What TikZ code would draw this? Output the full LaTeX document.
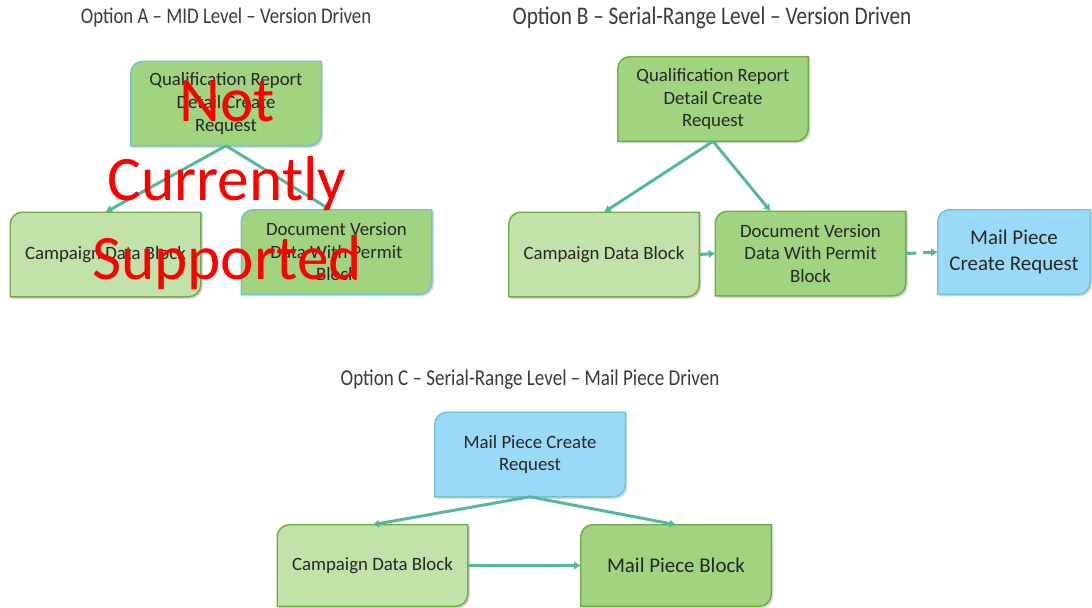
\documentclass[tikz,border=0pt]{standalone}
\usepackage{fontspec}
\setmainfont{Carlito}
\newfontfamily\titlefont[FakeStretch=0.84]{Carlito}
\usetikzlibrary{arrows.meta,backgrounds,shadows}

\definecolor{midgreen}{HTML}{A0D47E}
\definecolor{lightgreen}{HTML}{C1E2A8}
\definecolor{skyblue}{HTML}{98DAF8}
\definecolor{greenline}{HTML}{72AA48}
\definecolor{blueline}{HTML}{6CC3DA}
\definecolor{arrowteal}{HTML}{52B89C}
\definecolor{titlegray}{HTML}{3A3A3A}

% box outline: round top-left and bottom-right corners, square others
\newcommand{\snipshape}[3]{%
  \draw[fill=#2, draw=#3, line width=1.1pt,
        drop shadow={shadow xshift=1.5pt, shadow yshift=-1.5pt, opacity=0.3}]
    (#1.south west) -- ([yshift=-9pt]#1.north west)
    arc[start angle=180, end angle=90, radius=9pt]
    -- (#1.north east) -- ([yshift=9pt]#1.south east)
    arc[start angle=0, end angle=-90, radius=9pt] -- cycle;}

\tikzset{
  stepbox/.style={inner sep=0pt, minimum width=142.5pt, minimum height=63pt,
    align=center, text=black!85, font=\fontsize{14.1}{16.9}\selectfont},
  bigtext/.style={font=\fontsize{15.7}{19.5}\selectfont},
  title/.style={text=titlegray, inner sep=0pt},
  flow/.style={draw=arrowteal, line width=2.2pt, -{Latex[length=5pt,width=6.5pt]}},
  notsupp/.style={text=red, inner sep=0pt, align=center,
    font=\fontsize{47.5}{59.25}\selectfont}
}

\begin{document}
\begin{tikzpicture}[x=0.75pt,y=-0.75pt]
  \useasboundingbox (0,0) rectangle (1092,607);

  % titles
  \node[title, font=\titlefont\fontsize{16.8}{20}\selectfont] (titleA) at (226,18)
    {Option A \textendash\ MID Level \textendash\ Version Driven};
  \node[title, font=\titlefont\fontsize{19}{22}\selectfont] (titleB) at (712,18)
    {Option B \textendash\ Serial-Range Level \textendash\ Version Driven};
  \node[title, font=\titlefont\fontsize{17}{20}\selectfont] (titleC) at (530,380)
    {Option C \textendash\ Serial-Range Level \textendash\ Mail Piece Driven};

  % option A
  \node[stepbox] (qrA) at (226,103.5) {Qualification Report\\Detail Create\\Request};
  \node[stepbox] (campA) at (105.5,254.5) {Campaign Data Block};
  \node[stepbox] (docA) at (336.5,252) {Document Version\\Data With Permit\\Block};

  % option B
  \node[stepbox] (qrB) at (713,99) {Qualification Report\\Detail Create\\Request};
  \node[stepbox] (campB) at (604,254.5) {Campaign Data Block};
  \node[stepbox] (docB) at (810.5,253.5) {Document Version\\Data With Permit\\Block};
  \node[stepbox, bigtext, minimum width=114pt] (mailB) at (1014,252) {Mail Piece\\Create Request};

  % option C
  \node[stepbox] (mailC) at (530,454.5) {Mail Piece Create\\Request};
  \node[stepbox, minimum height=60.75pt] (campC) at (372.5,565.5) {Campaign Data Block};
  \node[stepbox, bigtext, minimum height=60.75pt] (blockC) at (676,565.5) {Mail Piece Block};

  \begin{scope}[on background layer]
    \snipshape{qrA}{midgreen}{blueline}
    \snipshape{campA}{lightgreen}{greenline}
    \snipshape{docA}{midgreen}{blueline}
    \snipshape{qrB}{midgreen}{greenline}
    \snipshape{campB}{lightgreen}{greenline}
    \snipshape{docB}{midgreen}{greenline}
    \snipshape{mailB}{skyblue}{blueline}
    \snipshape{mailC}{skyblue}{blueline}
    \snipshape{campC}{lightgreen}{greenline}
    \snipshape{blockC}{midgreen}{greenline}
  \end{scope}

  % connectors
  \draw[flow] (qrA.south) -- (campA.north);
  \draw[flow] (qrA.south) -- ([xshift=-4.5pt]docA.north);
  \draw[flow] (qrB.south) -- (campB.north);
  \draw[flow] (qrB.south) -- ([xshift=-30pt]docB.north);
  \draw[flow] (campB.east) -- (docB.west);
  \draw[flow, dash pattern=on 8pt off 5pt] (docB.east) -- (mailB.west);
  \draw[flow] (mailC.south) -- (campC.north);
  \draw[flow] (mailC.south) -- (blockC.north);
  \draw[flow] (campC.east) -- (blockC.west);

  % overlay on option A
  \node[notsupp] (nsA) at (227,185) {Not\\Currently\\Supported};
\end{tikzpicture}
\end{document}
